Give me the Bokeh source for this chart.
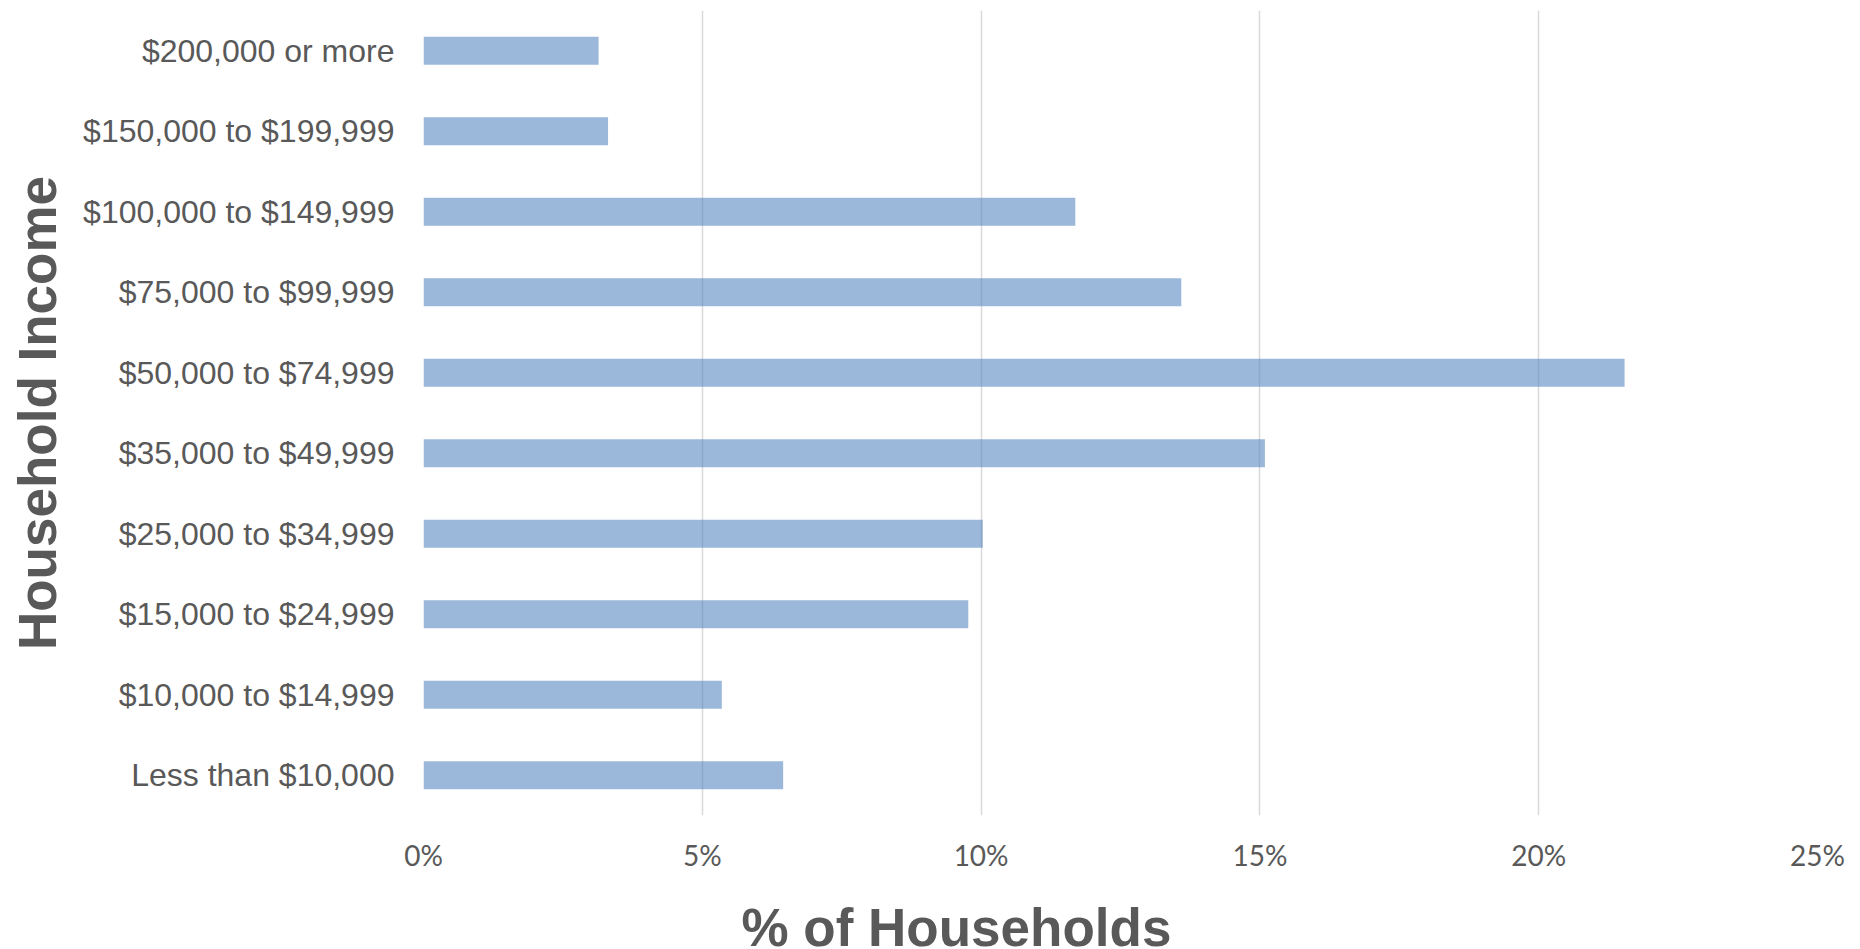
from bokeh.plotting import figure
from bokeh.models import Range1d, FactorRange, FixedTicker, Title
from bokeh.embed import file_html
from bokeh.resources import INLINE

categories = [
    "Less than $10,000",
    "$10,000 to $14,999",
    "$15,000 to $24,999",
    "$25,000 to $34,999",
    "$35,000 to $49,999",
    "$50,000 to $74,999",
    "$75,000 to $99,999",
    "$100,000 to $149,999",
    "$150,000 to $199,999",
    "$200,000 or more",
]
percent_households = [6.45, 5.35, 9.77, 10.03, 15.09, 21.54, 13.59, 11.69, 3.31, 3.14]
x_ticks = [0, 5, 10, 15, 20, 25]
x_tick_labels = ["0%", "5%", "10%", "15%", "20%", "25%"]

TEXT = "#595959"

p = figure(
    width=1860, height=949,
    y_range=FactorRange(factors=categories, range_padding=0),
    x_range=Range1d(0, 25),
    output_backend="svg", toolbar_location=None,
    min_border_left=423, min_border_right=43,
    min_border_top=10, min_border_bottom=132,
)
p.outline_line_color = None
p.background_fill_color = "white"
p.border_fill_color = "white"

p.hbar(y=categories, right=percent_households, left=0, height=0.35,
       fill_color="#4F81BD", fill_alpha=0.57, line_color=None)

# grid
p.ygrid.grid_line_color = None
p.xgrid.grid_line_color = "#D9D9D9"
p.xgrid.grid_line_width = 1.5
p.xgrid.level = "underlay"

# x axis
p.xaxis.ticker = FixedTicker(ticks=x_ticks)
p.xaxis.major_label_overrides = {t: l for t, l in zip(x_ticks, x_tick_labels)}
p.xaxis.axis_line_color = None
p.xaxis.major_tick_line_color = None
p.xaxis.minor_tick_line_color = None
p.xaxis.major_tick_out = 0
p.xaxis.major_tick_in = 0
p.xaxis.major_label_standoff = 22
p.xaxis.major_label_text_font = "Lato"
p.xaxis.major_label_text_font_size = "28px"
p.xaxis.major_label_text_color = TEXT
# spacer so the title below sits low, partly cut by the edge as in the original
p.xaxis.axis_label = "\u00a0"
p.xaxis.axis_label_text_font_size = "2px"
p.xaxis.axis_label_standoff = 23

# x axis title (shifted left of centre like the original)
p.add_layout(Title(text="% of Households", align="left", offset=318,
                   vertical_align="bottom", standoff=-14,
                   text_font="Liberation Sans",
                   text_font_style="bold", text_font_size="53px",
                   text_color=TEXT), "below")

# y axis
p.yaxis.axis_line_color = None
p.yaxis.major_tick_line_color = None
p.yaxis.minor_tick_line_color = None
p.yaxis.major_tick_out = 0
p.yaxis.major_tick_in = 0
p.yaxis.major_label_standoff = 29
p.yaxis.major_label_text_font = "Liberation Sans"
p.yaxis.major_label_text_font_size = "32px"
p.yaxis.major_label_text_color = TEXT
p.yaxis.axis_label = "Household Income"
p.yaxis.axis_label_standoff = 13
p.yaxis.axis_label_text_font = "Liberation Sans"
p.yaxis.axis_label_text_font_style = "bold"
p.yaxis.axis_label_text_font_size = "53px"
p.yaxis.axis_label_text_color = TEXT

open("out.html", "w").write(file_html(p, INLINE))
